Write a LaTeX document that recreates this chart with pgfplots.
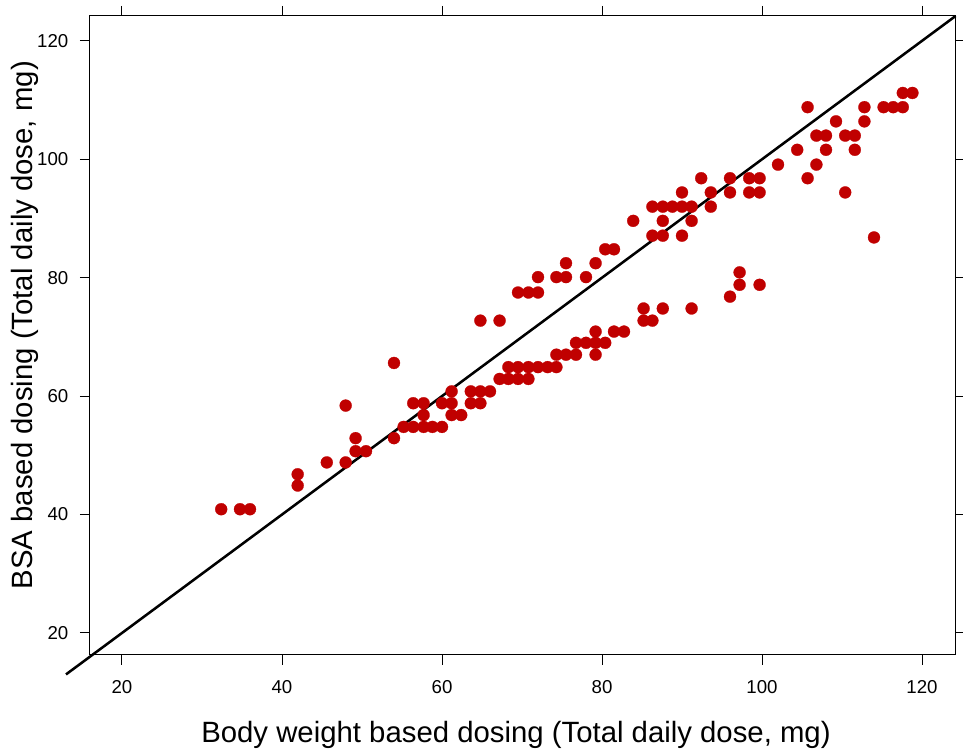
\documentclass[border=0pt]{standalone}
\usepackage{fontspec}
\setmainfont{Liberation Sans}
\usepackage{pgfplots}
\pgfplotsset{compat=1.18}
\definecolor{dotred}{HTML}{C00000}
\begin{document}
\begin{tikzpicture}
\begin{axis}[
  scale only axis, width=648.75pt, height=479.25pt,
  xmin=16, xmax=124.125, ymin=16.28, ymax=124.2,
  xtick={20,40,...,120}, ytick={20,40,...,120},
  tick align=outside, tick pos=both, ticklabel pos=left,
  major tick length=7.5pt,
  every tick/.style={black, line width=0.75pt},
  axis line style={black, line width=0.75pt},
  /pgf/number format/assume math mode=true,
  tick label style={font=\fontsize{14}{16}\selectfont},
  xticklabel style={yshift=-8pt},
  yticklabel style={xshift=-5.25pt},
  xlabel={Body weight based dosing (Total daily dose, mg)},
  ylabel={BSA based dosing (Total daily dose, mg)},
  label style={font=\fontsize{22}{26}\selectfont},
  xlabel style={at={(axis description cs:0.4925,-0.1362)}, anchor=base},
  ylabel style={at={(axis description cs:-0.0659,0.516)}, anchor=base},
  clip=false,
]
\coordinate (sw) at (rel axis cs:0,0);
\coordinate (ne) at (rel axis cs:1,1);
\addplot[only marks, mark=*, mark size=4.5pt, mark options={fill=dotred, draw=dotred, line width=0.2pt}] table {
x y
32.4 40.9
34.75 40.9
36.0 40.9
41.96 46.8
41.96 44.9
45.6 48.8
47.96 48.8
47.96 58.4
49.2 52.9
49.2 50.7
50.5 50.7
54.0 65.6
54.0 52.9
55.2 54.8
56.4 54.8
57.7 54.8
58.8 54.8
60.0 54.8
56.4 58.8
57.7 58.8
57.7 56.8
60.0 58.8
61.2 58.8
61.2 60.8
61.2 56.8
62.4 56.8
63.6 60.8
63.6 58.8
64.8 60.8
66.0 60.8
64.8 58.8
64.8 72.75
67.2 72.75
67.2 62.9
68.3 62.9
69.5 62.9
70.8 62.9
68.3 64.9
69.5 64.9
70.8 64.9
72.0 64.9
73.2 64.9
74.3 64.9
74.3 67.0
75.5 67.0
76.75 67.0
79.2 67.0
76.75 69.0
78.0 69.0
79.2 69.0
80.4 69.0
79.2 70.9
81.5 70.9
82.75 70.9
85.2 72.75
86.3 72.75
85.2 74.8
87.6 74.8
91.2 74.8
96.0 76.8
97.2 78.8
97.2 80.9
99.7 78.8
69.5 77.5
70.8 77.5
72.0 77.5
72.0 80.1
74.3 80.1
75.5 80.1
78.0 80.1
75.5 82.45
79.2 82.45
80.4 84.8
81.5 84.8
83.9 89.6
87.6 89.6
91.2 89.6
86.3 87.1
87.6 87.1
90.0 87.1
86.3 92.0
87.6 92.0
88.8 92.0
90.0 92.0
91.2 92.0
93.6 92.0
90.0 94.4
93.6 94.4
96.0 94.4
98.4 94.4
99.7 94.4
92.4 96.8
96.0 96.8
98.4 96.8
99.7 96.8
102.0 99.1
104.4 101.6
108.0 101.6
111.6 101.6
106.8 99.1
105.7 96.8
110.4 94.4
114.0 86.8
106.8 104.0
108.0 104.0
110.4 104.0
111.6 104.0
109.25 106.4
112.8 106.4
105.7 108.8
112.8 108.8
115.2 108.8
116.4 108.8
117.6 108.8
117.6 111.2
118.8 111.2
};
\addplot[black, line width=1.9pt] coordinates {(13,13) (124.2,124.2)};
\end{axis}
\pgfresetboundingbox
\path ([shift={(-67.5pt,-75pt)}]sw) rectangle ([shift={(6pt,12pt)}]ne);
\end{tikzpicture}
\end{document}
